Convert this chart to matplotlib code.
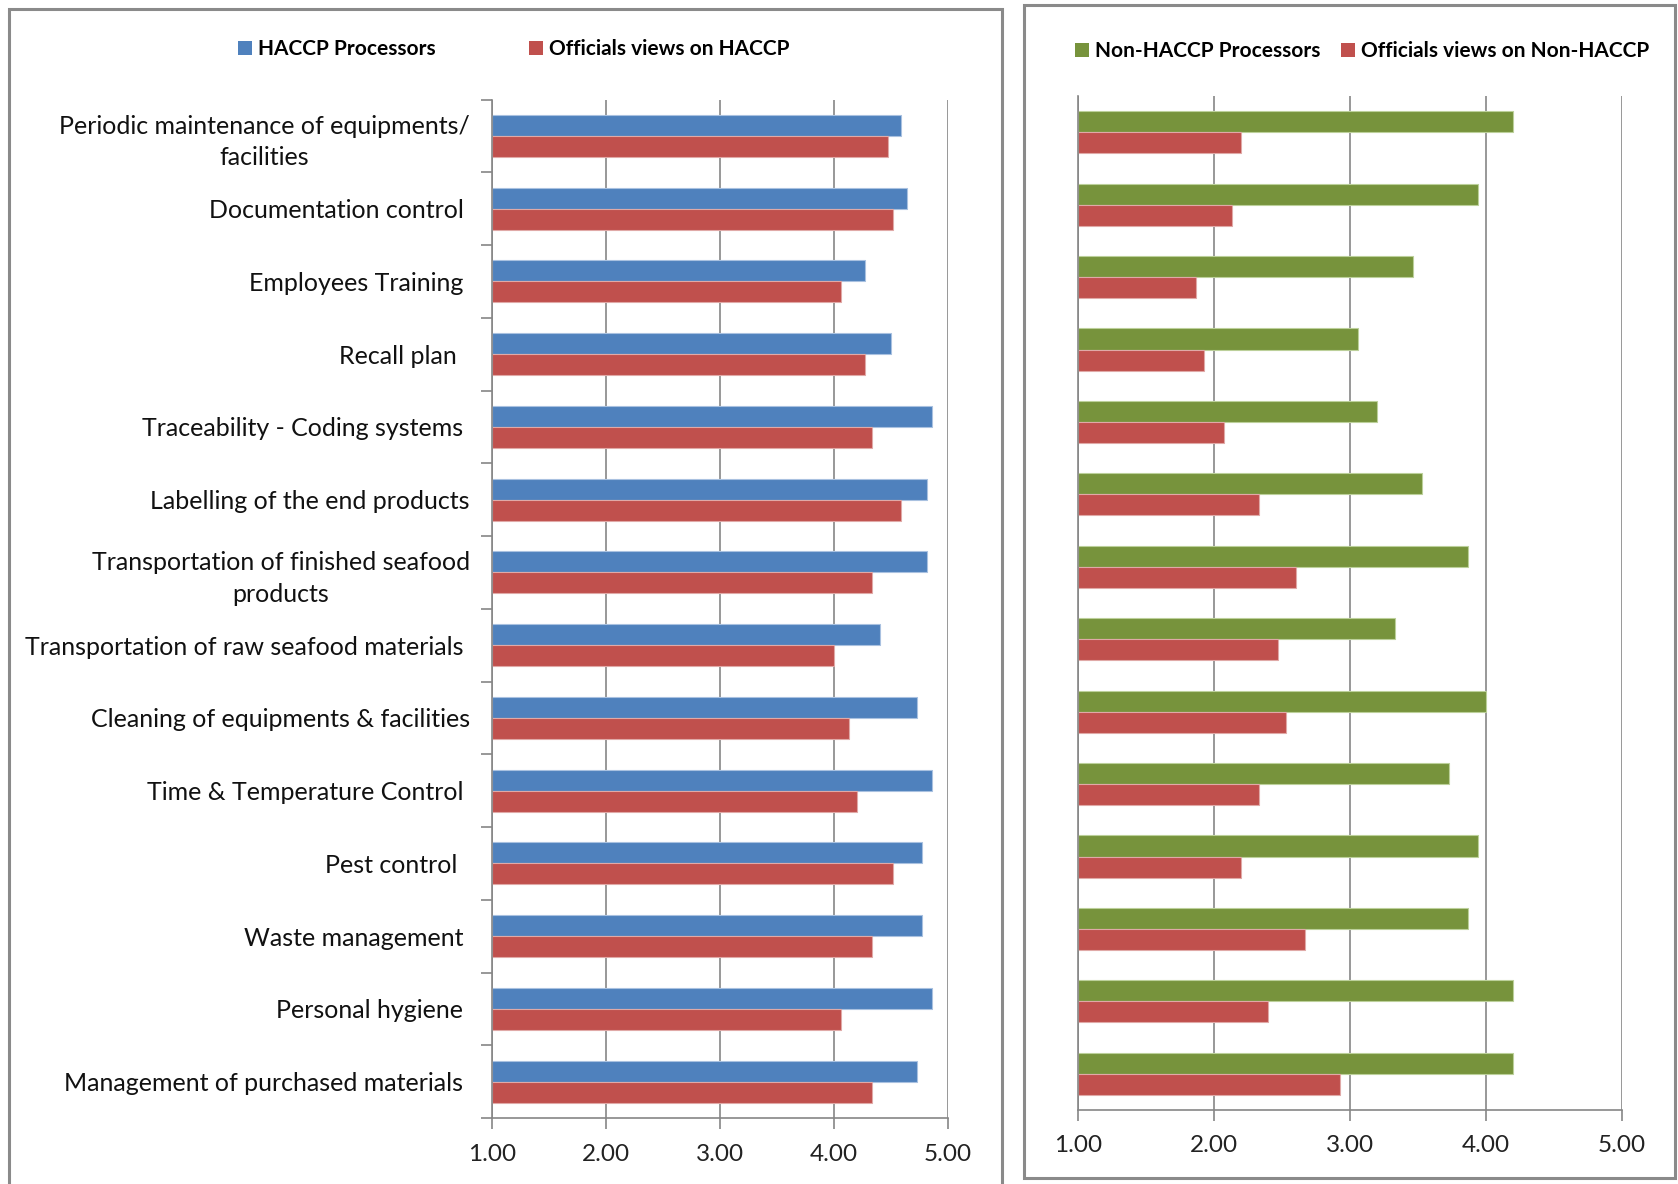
import numpy as np
import matplotlib.pyplot as plt
from matplotlib.patches import Rectangle

plt.rcParams['font.family'] = ['Lato', 'DejaVu Sans']

# practices, listed top to bottom
practices = [
    'Periodic maintenance of equipments/\nfacilities',
    'Documentation control ',
    'Employees Training ',
    'Recall plan  ',
    'Traceability - Coding systems ',
    'Labelling of the end products',
    'Transportation of finished seafood\nproducts',
    'Transportation of raw seafood materials ',
    'Cleaning of equipments & facilities',
    'Time & Temperature Control ',
    'Pest control  ',
    'Waste management ',
    'Personal hygiene ',
    'Management of purchased materials ',
]

haccp_proc = [4.59, 4.64, 4.27, 4.50, 4.86, 4.82, 4.82, 4.40, 4.73, 4.86, 4.77, 4.77, 4.86, 4.73]
haccp_off = [4.47, 4.52, 4.06, 4.27, 4.33, 4.59, 4.33, 4.00, 4.13, 4.20, 4.52, 4.33, 4.06, 4.33]
non_proc = [4.20, 3.94, 3.46, 3.06, 3.20, 3.53, 3.87, 3.33, 4.00, 3.73, 3.94, 3.87, 4.20, 4.20]
non_off = [2.20, 2.13, 1.87, 1.93, 2.07, 2.33, 2.60, 2.47, 2.53, 2.33, 2.20, 2.67, 2.40, 2.93]

xticks = [1, 2, 3, 4, 5]

blue = '#4F81BD'
red = '#C0504D'
green = '#77933C'
grid_c = '#868686'

W, H = 1678, 1184
fig = plt.figure(figsize=(W / 100, H / 100), dpi=100)
fig.patch.set_facecolor('white')

# panel frames
for x0, y0, x1, y1 in [(9, 9, 1002, 1200), (1024, 5, 1675, 1178)]:
    fig.patches.append(Rectangle((x0 / W, 1 - y1 / H), (x1 - x0) / W, (y1 - y0) / H,
                                 transform=fig.transFigure, fill=False,
                                 edgecolor='#8a8a8a', linewidth=2.2))

ax1 = fig.add_axes([492 / W, 1 - 1118 / H, (948 - 492) / W, (1118 - 99.5) / H])
ax2 = fig.add_axes([1078 / W, 1 - 1110 / H, (1622 - 1078) / W, (1110 - 96) / H])

y = np.arange(len(practices))
bh = 0.29


def style(ax, labels, xpad):
    ax.set_xlim(1, 5)
    ax.set_ylim(len(practices) - 0.5, -0.5)
    ax.set_xticks(xticks)
    ax.set_xticklabels(['%.2f' % v for v in xticks], fontsize=17.5, color='#222222')
    ax.grid(axis='x', color=grid_c, linewidth=1.2)
    ax.set_axisbelow(True)
    for s in ['top', 'right']:
        ax.spines[s].set_visible(False)
    for s in ['left', 'bottom']:
        ax.spines[s].set_color(grid_c)
        ax.spines[s].set_linewidth(1.2)
    ax.tick_params(axis='x', direction='out', length=8, width=1.2, color=grid_c, pad=xpad)
    ax.set_yticks(y)
    if labels:
        ax.set_yticklabels(practices, fontsize=18, color='#111111')
        for t in ax.get_yticklabels():
            t.set_multialignment('center')
            t.set_linespacing(1.45)
        ax.set_yticks(np.arange(len(practices) + 1) - 0.5, minor=True)
        ax.tick_params(axis='y', which='major', length=0, pad=16)
        ax.tick_params(axis='y', which='minor', direction='out', length=8,
                       width=1.2, color=grid_c)
    else:
        ax.set_yticklabels([])
        ax.tick_params(axis='y', length=0)


ax1.barh(y - bh / 2, np.array(haccp_proc) - 1, bh, left=1, color=blue,
         edgecolor='#a9c1e0', linewidth=0.8, label='HACCP Processors')
ax1.barh(y + bh / 2, np.array(haccp_off) - 1, bh, left=1, color=red,
         edgecolor='#e0a9a7', linewidth=0.8, label='Officials views on HACCP')
style(ax1, True, 11)

ax2.barh(y - bh / 2, np.array(non_proc) - 1, bh, left=1, color=green,
         edgecolor='#bcd09a', linewidth=0.8, label='Non-HACCP Processors')
ax2.barh(y + bh / 2, np.array(non_off) - 1, bh, left=1, color=red,
         edgecolor='#e0a9a7', linewidth=0.8, label='Officials views on Non-HACCP')
style(ax2, False, 10)

leg_kw = dict(ncol=2, frameon=False, handlelength=0.65, handleheight=0.65,
              handletextpad=0.3, prop={'weight': 'bold', 'size': 15})
l1 = fig.legend(*ax1.get_legend_handles_labels(), loc='center',
                bbox_to_anchor=(514 / W, 1 - 49 / H), columnspacing=4.5, **leg_kw)
l2 = fig.legend(*ax2.get_legend_handles_labels(), loc='center',
                bbox_to_anchor=(1362 / W, 1 - 51 / H), columnspacing=1.0, **leg_kw)
for leg in (l1, l2):
    for h in leg.legend_handles:
        h.set_edgecolor('none')

fig.savefig('out.png', dpi=100)
